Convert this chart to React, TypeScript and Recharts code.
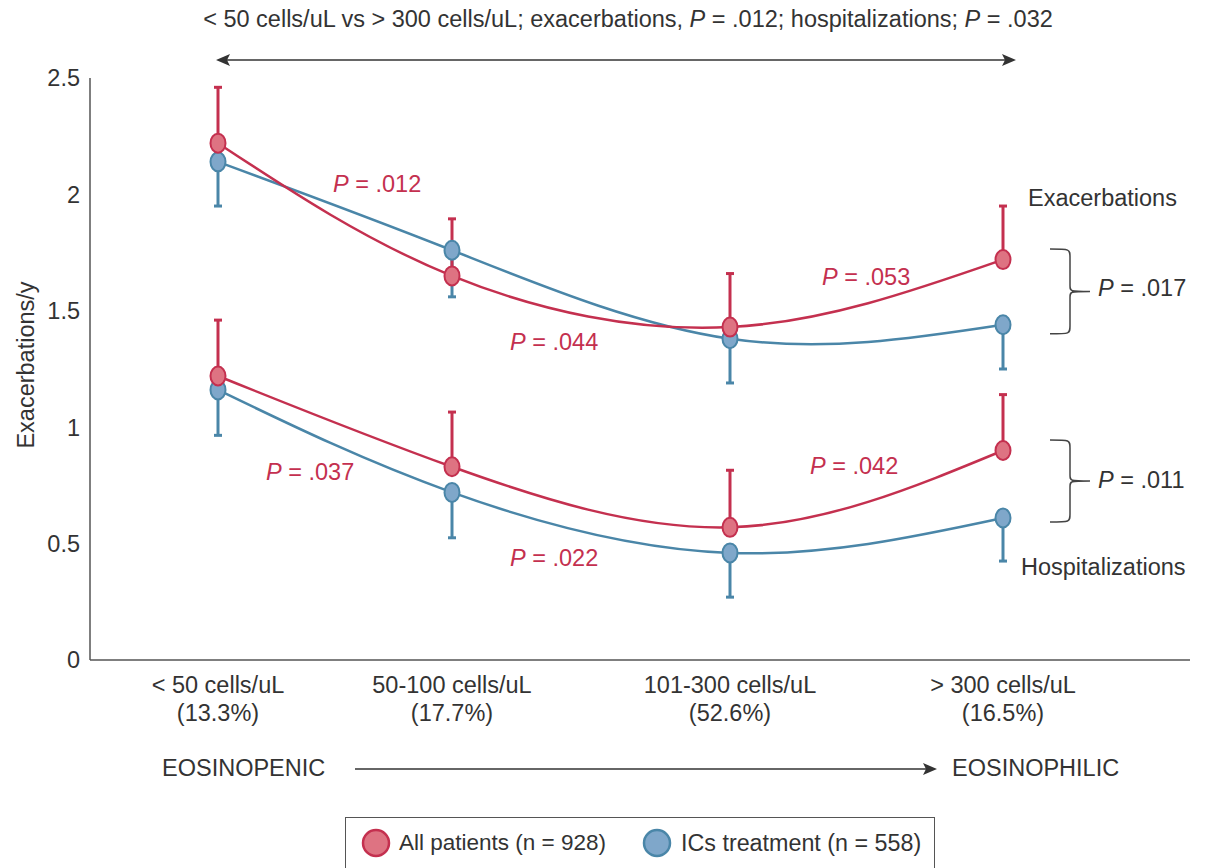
import { ComposedChart, Line, XAxis, YAxis, ErrorBar, ReferenceDot, ReferenceArea } from "recharts";

const FONT = '"Liberation Sans", Arial, Helvetica, sans-serif';
const INK = "#333";
const RED = "#c4304f";
const RED_FILL = "#de7382";
const BLUE = "#4a86a8";
const BLUE_FILL = "#7fa7ca";
const FS = 23.5;

// eosinophil count groups (x positions follow the uneven spacing of the figure)
const categories = ["< 50 cells/uL", "50-100 cells/uL", "101-300 cells/uL", "> 300 cells/uL"];
const shares = ["(13.3%)", "(17.7%)", "(52.6%)", "(16.5%)"];
const xPos = [12.8, 36.2, 64, 91.3];

// exacerbations per year
const allExac = [2.22, 1.65, 1.43, 1.72];
const allExacErr = [0.24, 0.245, 0.23, 0.23];
const icsExac = [2.14, 1.76, 1.38, 1.44];
const icsExacErr = [0.19, 0.2, 0.19, 0.19];

// hospitalizations per year
const allHosp = [1.22, 0.83, 0.57, 0.9];
const allHospErr = [0.24, 0.235, 0.245, 0.24];
const icsHosp = [1.16, 0.72, 0.46, 0.61];
const icsHospErr = [0.195, 0.195, 0.19, 0.185];

const yTicks = [0, 0.5, 1, 1.5, 2, 2.5];

// p-value annotations between groups
const pLabels = [
  { x: 24.3, y: 2.045, text: ".012", color: RED },
  { x: 42.0, y: 1.366, text: ".044", color: RED },
  { x: 73.2, y: 1.645, text: ".053", color: RED },
  { x: 17.6, y: 0.808, text: ".037", color: RED },
  { x: 42.0, y: 0.438, text: ".022", color: RED },
  { x: 72.0, y: 0.833, text: ".042", color: RED },
  { x: 100.8, y: 1.598, text: ".017", color: INK },
  { x: 100.8, y: 0.773, text: ".011", color: INK },
];

const groupLabels = [
  { x: 93.8, y: 1.985, text: "Exacerbations" },
  { x: 93.1, y: 0.4, text: "Hospitalizations" },
];

const brackets = [
  { x1: 96, x2: 100, y1: 1.401, y2: 1.765 },
  { x1: 96, x2: 100, y1: 0.593, y2: 0.945 },
];

const data = categories.map((c, i) => ({
  x: xPos[i],
  allExac: allExac[i],
  allExacErr: [0, allExacErr[i]],
  icsExac: icsExac[i],
  icsExacErr: [icsExacErr[i], 0],
  allHosp: allHosp[i],
  allHospErr: [0, allHospErr[i]],
  icsHosp: icsHosp[i],
  icsHospErr: [icsHospErr[i], 0],
}));

function makeDot(fill: string, stroke: string) {
  return (p: any) => (
    <ellipse key={`d-${p.index}`} cx={p.cx} cy={p.cy} rx={7.5} ry={9.5} fill={fill} stroke={stroke} strokeWidth={2} />
  );
}

function CatTick({ x, y, payload }: any) {
  const i = xPos.indexOf(payload.value);
  if (i < 0) return null;
  return (
    <text x={x} y={y + 25} textAnchor="middle" fill={INK} fontSize={FS} fontFamily={FONT}>
      <tspan x={x}>{categories[i]}</tspan>
      <tspan x={x} dy={28}>{shares[i]}</tspan>
    </text>
  );
}

function Bracket(p: any) {
  const { x, y, width: w, height: h } = p;
  const xm = x + w * 0.5;
  const ym = y + h / 2;
  const d = `M${x},${y} C${xm},${y} ${xm},${y} ${xm},${y + 8} L${xm},${ym - 6} C${xm},${ym} ${xm},${ym} ${x + w},${ym} C${xm},${ym} ${xm},${ym} ${xm},${ym + 6} L${xm},${y + h - 8} C${xm},${y + h} ${xm},${y + h} ${x},${y + h}`;
  return <path d={d} fill="none" stroke="#444" strokeWidth={1.5} />;
}

export default function App() {
  return (
    <div style={{ position: "absolute", left: 0, top: 0, width: 1210, height: 868, background: "#fff", fontFamily: FONT, color: INK, overflow: "hidden" }}>
      <div style={{ position: "absolute", left: 0, width: 1256, top: 6, textAlign: "center", fontSize: FS, whiteSpace: "nowrap" }}>
        &lt; 50 cells/uL vs &gt; 300 cells/uL; exacerbations, <i>P</i> = .012; hospitalizations; <i>P</i> = .032
      </div>
      <svg style={{ position: "absolute", left: 0, top: 0 }} width={1210} height={868}>
        <line x1={226} y1={60} x2={1006} y2={60} stroke={INK} strokeWidth={1.5} />
        <path d="M216,60 L230,54 L227,60 L230,66 Z" fill={INK} />
        <path d="M1016,60 L1002,54 L1005,60 L1002,66 Z" fill={INK} />
        <line x1={355} y1={769} x2={928} y2={769} stroke={INK} strokeWidth={1.5} />
        <path d="M937,769 L923,763 L926,769 L923,775 Z" fill={INK} />
      </svg>
      <div style={{ position: "absolute", left: 162, top: 755, fontSize: FS }}>EOSINOPENIC</div>
      <div style={{ position: "absolute", left: 952, top: 755, fontSize: FS }}>EOSINOPHILIC</div>

      <div style={{ position: "absolute", left: 0, top: 0 }}>
        <ComposedChart width={1210} height={868} data={data} margin={{ top: 78, right: 20, bottom: 148, left: 30 }}>
          <XAxis
            dataKey="x"
            type="number"
            domain={[0, 110]}
            ticks={xPos}
            interval={0}
            tick={<CatTick />}
            tickLine={false}
            axisLine={{ stroke: "#555", strokeWidth: 1.5 }}
            height={60}
          />
          <YAxis
            domain={[0, 2.5]}
            ticks={yTicks}
            width={60}
            tickLine={false}
            tickMargin={4}
            axisLine={{ stroke: "#555", strokeWidth: 1.5 }}
            tick={{ fill: INK, fontSize: FS, fontFamily: FONT }}
            label={(p: any) => {
              const vb = p.viewBox;
              const cx = vb.x - 4;
              const cy = vb.y + vb.height / 2 - 4;
              return (
                <text x={cx} y={cy} transform={`rotate(-90, ${cx}, ${cy})`} textAnchor="middle" dominantBaseline="central" fill={INK} fontSize={FS} fontFamily={FONT}>
                  Exacerbations/y
                </text>
              );
            }}
          />
          {brackets.map((b, i) => (
            <ReferenceArea key={`b-${i}`} x1={b.x1} x2={b.x2} y1={b.y1} y2={b.y2} shape={<Bracket />} ifOverflow="visible" />
          ))}
          <Line type="natural" dataKey="icsExac" stroke={BLUE} strokeWidth={2.5} dot={makeDot(BLUE_FILL, BLUE)} isAnimationActive={false}>
            <ErrorBar dataKey="icsExacErr" direction="y" width={4} strokeWidth={3} stroke={BLUE} />
          </Line>
          <Line type="natural" dataKey="allExac" stroke={RED} strokeWidth={2.5} dot={makeDot(RED_FILL, RED)} isAnimationActive={false}>
            <ErrorBar dataKey="allExacErr" direction="y" width={4} strokeWidth={3} stroke={RED} />
          </Line>
          <Line type="natural" dataKey="icsHosp" stroke={BLUE} strokeWidth={2.5} dot={makeDot(BLUE_FILL, BLUE)} isAnimationActive={false}>
            <ErrorBar dataKey="icsHospErr" direction="y" width={4} strokeWidth={3} stroke={BLUE} />
          </Line>
          <Line type="natural" dataKey="allHosp" stroke={RED} strokeWidth={2.5} dot={makeDot(RED_FILL, RED)} isAnimationActive={false}>
            <ErrorBar dataKey="allHospErr" direction="y" width={4} strokeWidth={3} stroke={RED} />
          </Line>
          {pLabels.map((l, i) => (
            <ReferenceDot
              key={`p-${i}`}
              x={l.x}
              y={l.y}
              r={0}
              ifOverflow="visible"
              shape={(s: any) => (
                <text x={s.cx} y={s.cy} dominantBaseline="central" fill={l.color} fontSize={FS} fontFamily={FONT}>
                  <tspan fontStyle="italic">P</tspan> = {l.text}
                </text>
              )}
            />
          ))}
          {groupLabels.map((l, i) => (
            <ReferenceDot
              key={`g-${i}`}
              x={l.x}
              y={l.y}
              r={0}
              ifOverflow="visible"
              shape={(s: any) => (
                <text x={s.cx} y={s.cy} dominantBaseline="central" fill={INK} fontSize={FS} fontFamily={FONT}>
                  {l.text}
                </text>
              )}
            />
          ))}
        </ComposedChart>
      </div>

      <div style={{ position: "absolute", left: 345, top: 817, width: 590, height: 70, border: "1.5px solid #555", boxSizing: "border-box" }}>
        <div style={{ display: "flex", alignItems: "center", height: 50, fontSize: 22.5, whiteSpace: "nowrap" }}>
          <svg width={30} height={30} style={{ marginLeft: 15, marginRight: 8 }}>
            <circle cx={15} cy={15} r={13} fill={RED_FILL} stroke={RED} strokeWidth={2.5} />
          </svg>
          <span>All patients (n = 928)</span>
          <svg width={30} height={30} style={{ marginLeft: 36, marginRight: 9 }}>
            <circle cx={15} cy={15} r={13} fill={BLUE_FILL} stroke={BLUE} strokeWidth={2.5} />
          </svg>
          <span style={{ fontSize: 23.3 }}>ICs treatment (n = 558)</span>
        </div>
      </div>
    </div>
  );
}
